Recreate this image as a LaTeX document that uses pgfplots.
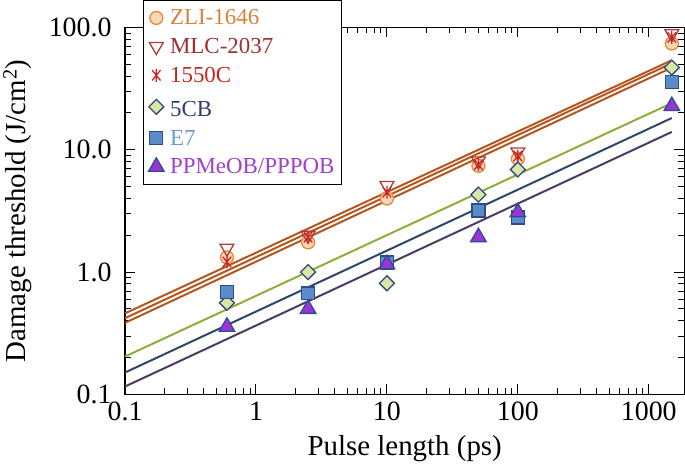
\documentclass[border=0pt]{standalone}
\usepackage{fontspec}
\setmainfont{Liberation Serif}
\usepackage{pgfplots}
\pgfplotsset{compat=1.18}
\definecolor{lorange}{HTML}{B5561E}
\definecolor{lgreen}{HTML}{8DAE38}
\definecolor{lnavy}{HTML}{2E4668}
\definecolor{lpurple}{HTML}{4B3A62}
\definecolor{zliedge}{HTML}{E8883A}
\definecolor{zlifill}{HTML}{F9D8B5}
\definecolor{zlitext}{HTML}{DA823A}
\definecolor{mlcedge}{HTML}{B03A3A}
\definecolor{mlctext}{HTML}{A0302E}
\definecolor{cedge}{HTML}{CC2222}
\definecolor{ctext}{HTML}{C0281E}
\definecolor{cbfill}{HTML}{D9E6A6}
\definecolor{cbedge}{HTML}{2D4B7F}
\definecolor{cbtext}{HTML}{2D3F6B}
\definecolor{esfill}{HTML}{5B8BC9}
\definecolor{esedge}{HTML}{2D4B8F}
\definecolor{estext}{HTML}{6A9BD5}
\definecolor{ppfill}{HTML}{9B35CF}
\definecolor{ppedge}{HTML}{2D4BA0}
\definecolor{pptext}{HTML}{A040D0}
\pgfdeclareplotmark{xbar}{%
  \pgfpathmoveto{\pgfqpoint{0pt}{\pgfplotmarksize}}%
  \pgfpathlineto{\pgfqpoint{0pt}{-\pgfplotmarksize}}%
  \pgfpathmoveto{\pgfqpoint{-.65\pgfplotmarksize}{-.8\pgfplotmarksize}}%
  \pgfpathlineto{\pgfqpoint{.65\pgfplotmarksize}{.8\pgfplotmarksize}}%
  \pgfpathmoveto{\pgfqpoint{-.65\pgfplotmarksize}{.8\pgfplotmarksize}}%
  \pgfpathlineto{\pgfqpoint{.65\pgfplotmarksize}{-.8\pgfplotmarksize}}%
  \pgfusepathqstroke}
\begin{document}
\begin{tikzpicture}
\begin{axis}[
  scale only axis, width=561pt, height=368pt,
  xmode=log, ymode=log,
  xmin=0.1, xmax=1870, ymin=0.1, ymax=100,
  xtick={0.1,1,10,100,1000}, xticklabels={0.1,1,10,100,1000},
  ytick={0.1,1,10,100}, yticklabels={0.1,1.0,10.0,100.0},
  minor xtick={0.2,0.3,0.4,0.5,0.6,0.7,0.8,0.9,2,3,4,5,6,7,8,9,20,30,40,50,60,70,80,90,200,300,400,500,600,700,800,900},
  minor ytick={0.2,0.3,0.4,0.5,0.6,0.7,0.8,0.9,2,3,4,5,6,7,8,9,20,30,40,50,60,70,80,90},
  tick align=inside, xtick pos=both, ytick pos=both,
  major tick length=10pt, minor tick length=6pt,
  every tick/.style={black, line width=1pt},
  axis line style={line width=1.3pt},
  tick label style={font=\fontsize{28}{30}\selectfont},
  label style={font=\fontsize{29}{32}\selectfont},
  xlabel={Pulse length (ps)},
  ylabel={Damage threshold (J/cm\textsuperscript{2})},
  xticklabel style={yshift=-4pt},
  yticklabel style={xshift=-10pt},
  xlabel style={yshift=-8pt},
  ylabel style={at={(ticklabel cs:0.5,10pt)}},
  legend cell align=left,
  legend style={at={(0.032,1.075)}, anchor=north west, draw=black, line width=1.2pt,
    font=\fontsize{23}{26}\selectfont, row sep=8pt, inner xsep=5pt, inner ysep=7pt,
    /tikz/every odd column/.append style={column sep=4pt}},
]
% fitted lines
\addplot[forget plot, lorange, line width=2pt] coordinates {(0.1,0.46) (1500,54)};
\addplot[forget plot, lorange, line width=2pt] coordinates {(0.1,0.42) (1500,51)};
\addplot[forget plot, lorange, line width=2pt] coordinates {(0.1,0.385) (1500,47)};
\addplot[forget plot, lgreen, line width=2pt] coordinates {(0.1,0.204) (1500,24.1)};
\addplot[forget plot, lnavy, line width=2pt] coordinates {(0.1,0.151) (1500,18.2)};
\addplot[forget plot, lpurple, line width=2pt] coordinates {(0.1,0.116) (1500,14.0)};
% data
\addplot[only marks, mark=*, mark size=6.5pt, mark options={draw=zliedge, fill=zlifill, line width=1.3pt}]
  coordinates {(0.6,1.32) (2.5,1.75) (10,4.0) (50,7.4) (100,8.45) (1500,74)};
\addlegendentry{\textcolor{zlitext}{ZLI-1646}}
\addplot[only marks, mark=triangle, mark size=8pt, mark options={draw=mlcedge, fill=white, rotate=180, line width=1.3pt}]
  coordinates {(0.6,1.57) (2.5,2.0) (10,5.1) (50,8.1) (100,9.6) (1500,89)};
\addlegendentry{\textcolor{mlctext}{MLC-2037}}
\addplot[only marks, mark=xbar, mark size=6.5pt, mark options={draw=cedge, line width=1.3pt}]
  coordinates {(0.6,1.21) (2.5,1.93) (10,4.5) (50,7.55) (100,8.9) (1500,83)};
\addlegendentry{\textcolor{ctext}{1550C}}
\addplot[only marks, mark=square*, mark size=5.3pt, mark options={draw=cbedge, fill=cbfill, rotate=45, line width=1.3pt}]
  coordinates {(0.6,0.56) (2.5,1.0) (10,0.81) (50,4.3) (100,6.9) (1500,47)};
\addlegendentry{\rule{0pt}{21pt}\textcolor{cbtext}{5CB}}
\addplot[only marks, mark=square*, mark size=6.5pt, mark options={draw=esedge, fill=esfill, line width=1.3pt}]
  coordinates {(0.6,0.69) (2.5,0.67) (10,1.2) (50,3.19) (100,2.8) (1500,35.7)};
\addlegendentry{\textcolor{estext}{E7}}
\addplot[only marks, mark=triangle*, mark size=9pt, mark options={draw=ppedge, fill=ppfill, line width=1.3pt}]
  coordinates {(0.6,0.357) (2.5,0.50) (10,1.16) (50,1.93) (100,3.08) (1500,22.8)};
\addlegendentry{\textcolor{pptext}{PPMeOB/PPPOB}}
\end{axis}
\end{tikzpicture}
\end{document}
